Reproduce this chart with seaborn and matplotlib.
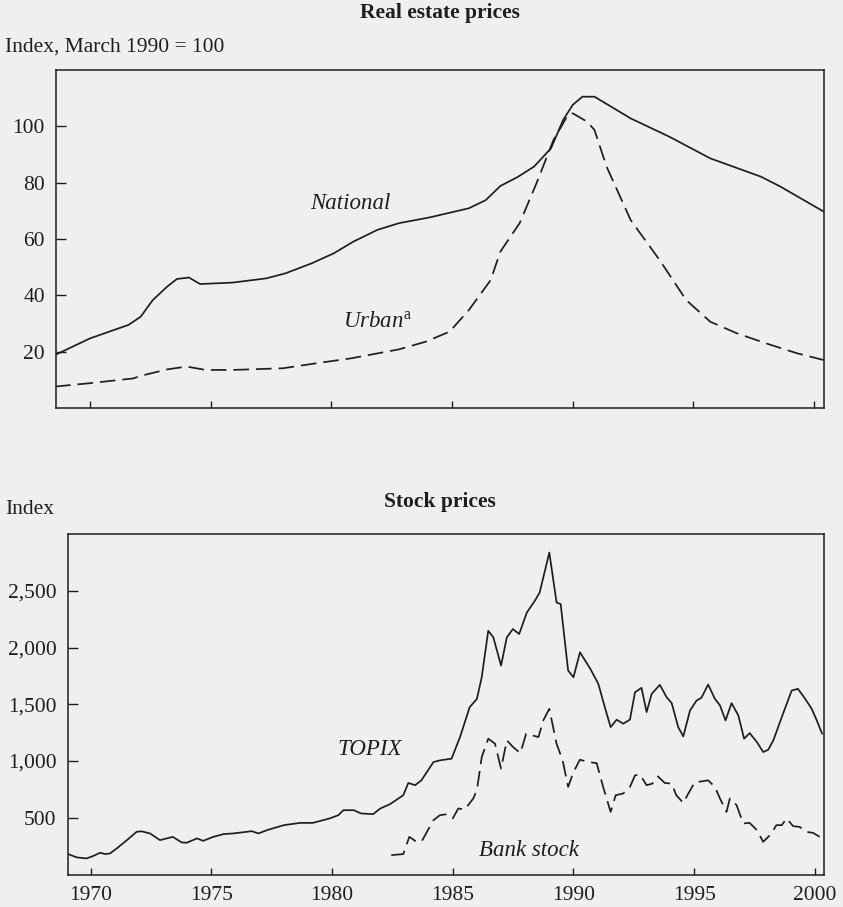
import numpy as np
import pandas as pd
import matplotlib
matplotlib.use("Agg")
import matplotlib.pyplot as plt
from matplotlib.ticker import FuncFormatter
import seaborn as sns

# ---- data ----
national_years = [1968.55, 1970.0, 1971.6, 1972.1, 1972.6, 1973.2, 1973.6, 1974.1,
                  1974.56, 1975.9, 1977.3, 1978.1, 1979.2, 1980.1, 1980.9, 1981.9,
                  1982.8, 1984.1, 1985.7, 1986.4, 1987.0, 1987.7, 1988.4, 1989.1,
                  1989.6, 1990.0, 1990.4, 1990.9, 1992.4, 1994.0, 1995.7, 1997.8,
                  1998.6, 2000.4]
national_vals = [18.8, 24.7, 29.5, 32.4, 38.3, 43.1, 45.8, 46.3,
                 44.0, 44.5, 46.0, 47.8, 51.4, 54.9, 59.0, 63.2,
                 65.6, 67.7, 70.9, 73.8, 78.8, 81.9, 85.7, 92.2,
                 102.2, 107.6, 110.5, 110.5, 102.8, 96.3, 88.6, 82.1,
                 78.6, 69.7]

urban_years = [1968.55, 1970.0, 1971.8, 1972.1, 1973.2, 1974.0, 1974.8, 1975.9,
               1978.0, 1979.4, 1980.8, 1982.8, 1983.9, 1984.9, 1985.7, 1986.6,
               1987.0, 1987.8, 1988.5, 1989.2, 1989.8, 1990.0, 1990.6, 1990.9,
               1991.4, 1992.4, 1993.6, 1994.7, 1995.7, 1996.8, 1998.2, 1999.3,
               2000.4]
urban_vals = [7.6, 8.8, 10.5, 11.4, 13.7, 14.7, 13.5, 13.5,
              14.1, 15.9, 17.6, 20.8, 23.5, 27.1, 34.8, 45.4,
              55.5, 65.6, 79.8, 95.1, 104.0, 104.6, 101.6, 98.7,
              85.7, 66.7, 52.5, 38.3, 30.6, 26.5, 22.4, 19.4,
              17.0]

topix_years = [1969.07, 1969.42, 1969.83, 1970.1, 1970.39, 1970.6, 1970.8, 1971.08,
               1971.5, 1971.9, 1972.1, 1972.46, 1972.87, 1973.4, 1973.77, 1973.98,
               1974.4, 1974.66, 1975.08, 1975.5, 1975.9, 1976.26, 1976.67, 1976.95,
               1977.3, 1978.0, 1978.67, 1979.2, 1979.9, 1980.26, 1980.47, 1980.9,
               1981.2, 1981.7, 1982.0, 1982.4, 1982.95, 1983.16, 1983.44, 1983.7,
               1984.2, 1984.47, 1984.95, 1985.3, 1985.7, 1986.0, 1986.2, 1986.47,
               1986.68, 1987.0, 1987.24, 1987.49, 1987.75, 1988.07, 1988.4, 1988.6,
               1989.0, 1989.3, 1989.47, 1989.78, 1990.0, 1990.27, 1990.7, 1991.03,
               1991.3, 1991.54, 1991.79, 1992.06, 1992.34, 1992.55, 1992.82, 1993.03,
               1993.24, 1993.58, 1993.86, 1994.07, 1994.34, 1994.55, 1994.83, 1995.1,
               1995.3, 1995.58, 1995.86, 1996.07, 1996.3, 1996.55, 1996.83, 1997.07,
               1997.3, 1997.6, 1997.86, 1998.07, 1998.28, 1998.63, 1999.04, 1999.3,
               1999.6, 1999.87, 2000.08, 2000.3]
topix_vals = [180, 151, 142, 163, 192, 180, 186, 230,
              303, 376, 381, 362, 303, 332, 283, 280,
              318, 297, 332, 356, 362, 371, 382, 362,
              391, 435, 455, 455, 494, 523, 567, 567,
              538, 532, 582, 620, 699, 807, 787, 830,
              991, 1006, 1021, 1211, 1474, 1548, 1738, 2148,
              2090, 1841, 2090, 2163, 2119, 2309, 2412, 2485,
              2837, 2397, 2383, 1797, 1738, 1958, 1812, 1680,
              1474, 1299, 1364, 1329, 1365, 1606, 1645, 1431,
              1592, 1671, 1562, 1510, 1299, 1217, 1446, 1533,
              1557, 1674, 1548, 1490, 1358, 1510, 1402, 1197,
              1246, 1167, 1079, 1100, 1182, 1387, 1621, 1636,
              1548, 1460, 1358, 1241]

bank_years = [1982.45, 1982.95, 1983.2, 1983.44, 1983.7, 1984.2, 1984.47, 1984.7,
              1985.0, 1985.23, 1985.5, 1985.85, 1986.0, 1986.2, 1986.47, 1986.75,
              1987.0, 1987.24, 1987.5, 1987.8, 1988.04, 1988.3, 1988.55, 1988.75,
              1989.0, 1989.3, 1989.55, 1989.78, 1990.0, 1990.27, 1990.6, 1990.96,
              1991.23, 1991.54, 1991.75, 1992.06, 1992.34, 1992.55, 1992.76, 1993.03,
              1993.27, 1993.5, 1993.78, 1994.07, 1994.26, 1994.55, 1994.76, 1995.03,
              1995.3, 1995.58, 1995.86, 1996.07, 1996.34, 1996.48, 1996.76, 1997.03,
              1997.3, 1997.6, 1997.86, 1998.14, 1998.41, 1998.63, 1998.83, 1999.1,
              1999.37, 1999.65, 1999.93, 2000.2]
bank_vals = [171, 180, 332, 297, 288, 479, 523, 530,
             494, 582, 573, 670, 743, 1035, 1197, 1153,
             933, 1182, 1123, 1070, 1241, 1226, 1211, 1358,
             1460, 1153, 1006, 772, 903, 1012, 991, 982,
             772, 552, 699, 714, 772, 874, 880, 787,
             801, 865, 807, 801, 699, 631, 714, 815,
             820, 830, 772, 670, 552, 670, 611, 450,
             455, 391, 288, 347, 435, 435, 494, 426,
             420, 376, 367, 332]

re_yticks = [20, 40, 60, 80, 100]
st_yticks = [500, 1000, 1500, 2000, 2500]
year_ticks = [1970, 1975, 1980, 1985, 1990, 1995, 2000]

# ---- style ----
sns.set_style("ticks")
plt.rcParams["font.family"] = ["Liberation Serif", "DejaVu Serif"]
plt.rcParams["mathtext.fontset"] = "custom"
plt.rcParams["mathtext.rm"] = "Liberation Serif"
plt.rcParams["mathtext.it"] = "Liberation Serif:italic"

BG = "#efefef"
INK = "#1e1e1e"
FS = 15.5
LFS = 16.5
DASH = (0, (9, 4))

fig = plt.figure(figsize=(8.43, 9.07), dpi=100, facecolor=BG)
ax1 = fig.add_axes([0.0664, 0.5502, 0.9105, 0.3727])
ax2 = fig.add_axes([0.0801, 0.0358, 0.8968, 0.3754])

for ax in (ax1, ax2):
    ax.set_facecolor(BG)
    for sp in ax.spines.values():
        sp.set_visible(True)
        sp.set_color(INK)
        sp.set_linewidth(1.1)
    ax.tick_params(direction="in", colors=INK, labelsize=FS, pad=8, width=1.0)
    ax.tick_params(axis="y", length=7)
    ax.tick_params(axis="x", length=5)

# ---- real estate ----
re_nat = pd.DataFrame({"year": national_years, "value": national_vals})
re_urb = pd.DataFrame({"year": urban_years, "value": urban_vals})
sns.lineplot(data=re_nat, x="year", y="value", ax=ax1, color=INK, lw=1.25, estimator=None)
sns.lineplot(data=re_urb, x="year", y="value", ax=ax1, color=INK, lw=1.25, estimator=None,
             linestyle=DASH)
ax1.set_xlim(1968.59, 2000.39)
ax1.set_ylim(0, 120)
ax1.set_xticks(year_ticks)
ax1.set_xticklabels([])
ax1.set_yticks(re_yticks)
ax1.set_xlabel("")
ax1.set_ylabel("")
ax1.text(0.384, 0.606, "National", transform=ax1.transAxes, style="italic",
         fontsize=LFS, ha="center", va="center", color=INK)
ax1.text(0.374, 0.255, r"$\mathit{Urban}^{\mathrm{a}}$", transform=ax1.transAxes,
         fontsize=LFS, ha="left", va="center", color=INK)

# ---- stock prices ----
st_top = pd.DataFrame({"year": topix_years, "value": topix_vals})
st_bank = pd.DataFrame({"year": bank_years, "value": bank_vals})
sns.lineplot(data=st_top, x="year", y="value", ax=ax2, color=INK, lw=1.25, estimator=None)
sns.lineplot(data=st_bank, x="year", y="value", ax=ax2, color=INK, lw=1.25, estimator=None,
             linestyle=DASH)
ax2.set_xlim(1969.04, 2000.36)
ax2.set_ylim(0, 3000)
ax2.set_xticks(year_ticks)
ax2.set_yticks(st_yticks)
ax2.yaxis.set_major_formatter(FuncFormatter(lambda v, p: f"{int(v):,}"))
ax2.set_xlabel("")
ax2.set_ylabel("")
ax2.text(0.400, 0.366, "TOPIX", transform=ax2.transAxes, style="italic",
         fontsize=LFS, ha="center", va="center", color=INK)
ax2.text(0.610, 0.072, "Bank stock", transform=ax2.transAxes, style="italic",
         fontsize=LFS, ha="center", va="center", color=INK)

# ---- headings ----
fig.text(440 / 843, 1 - 13 / 907, "Real estate prices", ha="center", va="center",
         fontsize=FS, fontweight="bold", color=INK)
fig.text(5 / 843, 1 - 47 / 907, "Index, March 1990 = 100", ha="left", va="center",
         fontsize=FS, color=INK)
fig.text(440 / 843, 1 - 502 / 907, "Stock prices", ha="center", va="center",
         fontsize=FS, fontweight="bold", color=INK)
fig.text(5 / 843, 1 - 509 / 907, "Index", ha="left", va="center",
         fontsize=FS, color=INK)

fig.savefig("out.png", dpi=100, facecolor=BG)
